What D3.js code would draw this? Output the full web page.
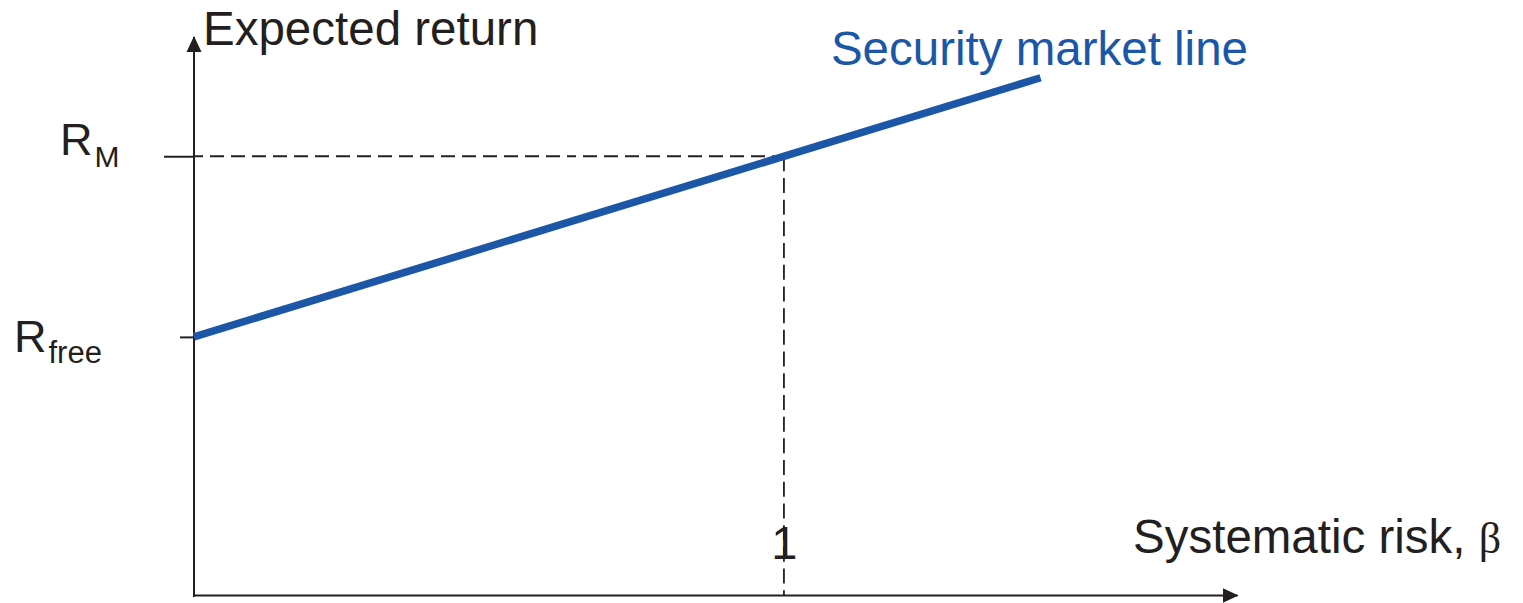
<!DOCTYPE html>
<html>
<head>
<meta charset="utf-8">
<script src="https://cdn.jsdelivr.net/npm/d3@7"></script>
<style>
  html, body { margin: 0; padding: 0; background: #fff; }
  svg { display: block; font-family: "Liberation Sans", Arial, Helvetica, sans-serif; }
</style>
</head>
<body>
<svg id="chart" width="1523" height="603"></svg>
<script>
// ---- data ----
const betaDomain = [0, 1.768];          // x axis extent (beta)
const returnDomain = [0, 10.81];        // y axis extent (expected return)
const smlBeta = [0, 1.435];             // security market line endpoints (beta)
const smlReturn = [5, 10.02];           // security market line endpoints (return)
const riskFree = 5;                     // R_free
const marketReturn = 8.5;               // R_M
const marketBeta = 1;                   // beta of the market
const xTickLabels = ["1"];
const yLabelMain = ["R", "R"];
const yLabelSub = ["M", "free"];
const xTitle = "Systematic risk, ";
const xTitleSymbol = "\u03B2";
const yTitle = "Expected return";
const lineLabel = "Security market line";

const ink = "#231f20";
const blue = "#1b56a7";

const svg = d3.select("#chart");

const x = d3.scaleLinear().domain(betaDomain).range([194, 1237]);
const y = d3.scaleLinear().domain(returnDomain).range([595, 37]);

// arrow marker
svg.append("defs").append("marker")
  .attr("id", "arrow")
  .attr("markerUnits", "userSpaceOnUse")
  .attr("viewBox", "0 0 16 16")
  .attr("markerWidth", 16).attr("markerHeight", 16)
  .attr("refX", 15).attr("refY", 8)
  .attr("orient", "auto")
  .append("path").attr("d", "M0,0.5L16,8L0,15.5Z").attr("fill", ink);

// dashed guides
svg.append("line")
  .attr("x1", x(0)).attr("x2", x(marketBeta))
  .attr("y1", y(marketReturn)).attr("y2", y(marketReturn))
  .attr("stroke", ink).attr("stroke-width", 1.8)
  .attr("stroke-dasharray", "9,7,14,7,14,7,14,7,14,7,14,7,14,7,14,7,14,7,14,7,14,7,14,7,14,7,14,7,14,7,14,7,14,7,14,7");
svg.append("line")
  .attr("x1", x(marketBeta)).attr("x2", x(marketBeta))
  .attr("y1", y(marketReturn)).attr("y2", y(0))
  .attr("stroke", ink).attr("stroke-width", 1.8)
  .attr("stroke-dasharray", "15,6.7");

// x axis
const xAxis = svg.append("g")
  .attr("transform", `translate(0,${y(0)})`)
  .call(d3.axisBottom(x).tickValues([marketBeta]).tickSize(0).tickSizeOuter(0)
        .tickFormat((d, i) => xTickLabels[i]));
xAxis.select(".domain").attr("stroke", ink).attr("stroke-width", 2).attr("marker-end", "url(#arrow)");
xAxis.selectAll(".tick text")
  .attr("y", -36).attr("dy", 0)
  .attr("font-size", 47).attr("fill", ink)
  .attr("font-family", "'Liberation Sans', Arial, sans-serif");

// y axis
const yTickVals = [marketReturn, riskFree];
const yTickLen = [30, 14];
const yAxis = svg.append("g")
  .attr("transform", `translate(${x(0)},0)`)
  .call(d3.axisLeft(y).tickValues(yTickVals).tickSizeOuter(0).tickFormat(""));
yAxis.select(".domain").attr("stroke", ink).attr("stroke-width", 2)
  .attr("d", `M0,${y(0) + 2}V${y(returnDomain[1])}`)
  .attr("marker-end", "url(#arrow)");
yAxis.selectAll(".tick line")
  .attr("stroke", ink).attr("stroke-width", 2)
  .attr("x2", (d, i) => -yTickLen[i]);
yAxis.selectAll(".tick text").remove();

// y tick labels with subscripts
const yLabelPos = [
  { x: 60, base: -1, subDx: 2, subDy: 12, size: 45, subSize: 30 },
  { x: 14, base: 15, subDx: 2, subDy: 11, size: 45, subSize: 31 }
];
yTickVals.forEach((v, i) => {
  const p = yLabelPos[i];
  const t = svg.append("text")
    .attr("x", p.x).attr("y", y(v) + p.base)
    .attr("fill", ink).attr("font-size", p.size);
  t.append("tspan").text(yLabelMain[i]);
  t.append("tspan").attr("dx", p.subDx).attr("dy", p.subDy)
    .attr("font-size", p.subSize).text(yLabelSub[i]);
});

// axis titles
svg.append("text").attr("x", 203).attr("y", 45)
  .attr("font-size", 47.5).attr("fill", ink).text(yTitle);
const xt = svg.append("text").attr("x", 1133).attr("y", 553)
  .attr("font-size", 47.5).attr("fill", ink);
xt.append("tspan").text(xTitle);
xt.append("tspan").attr("font-family", "'Liberation Serif', 'Times New Roman', serif")
  .attr("font-size", 44).text(xTitleSymbol);

// security market line
const line = d3.line().x(d => x(d[0])).y(d => y(d[1]));
svg.append("path")
  .datum(d3.zip(smlBeta, smlReturn))
  .attr("d", line)
  .attr("fill", "none").attr("stroke", blue).attr("stroke-width", 7.5);

svg.append("text").attr("x", 1248).attr("y", 65)
  .attr("text-anchor", "end")
  .attr("font-size", 47.5).attr("fill", blue).text(lineLabel);
</script>
</body>
</html>
